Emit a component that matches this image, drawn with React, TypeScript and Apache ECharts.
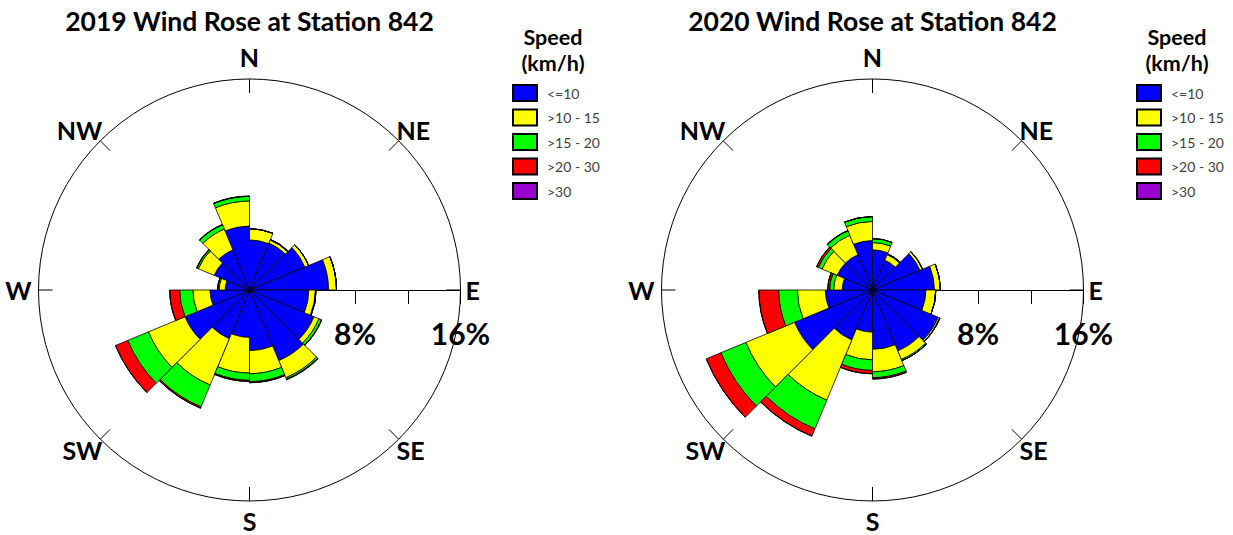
import React, { useEffect, useRef } from "react";
import * as echarts from "echarts";

const FONT = "Lato, 'Open Sans', sans-serif";

const SECTORS = ["N", "NNE", "NE", "ENE", "E", "ESE", "SE", "SSE", "S", "SSW", "SW", "WSW", "W", "WNW", "NW", "NNW"];
const COMPASS = ["E", "SE", "S", "SW", "W", "NW", "N", "NE", ""];
const COMPASS_STYLE = ["e", "d", "s", "d", "w", "d", "n", "d", "d"];
const SPEED_NAMES = ["<=10", ">10 - 15", ">15 - 20", ">20 - 30", ">30"];
const SPEED_COLORS = ["#0000FF", "#FFFF00", "#00FF00", "#FF0000", "#9900CC"];
const RADIUS_TICKS_SHOWN = [8, 16];

// 2019 (percent of time, per 22.5° sector starting at N, clockwise)
const y2019Calm = [3.8, 3.85, 4.55, 6.0, 4.5, 5.3, 5.8, 4.6, 3.6, 4.0, 5.3, 3.0, 1.85, 2.9, 3.3, 4.85];
const y2019Light = [0.85, 0.25, 0.3, 0.6, 0.5, 0.4, 1.4, 1.75, 2.7, 3.8, 3.0, 1.3, 0.45, 1.3, 1.7, 1.9];
const y2019Moderate = [0, 0.05, 0, 0, 0.05, 0.2, 0.12, 0.6, 0.55, 1.8, 1.7, 1.0, 0.1, 0.12, 0.35, 0.35];
const y2019Fresh = [0, 0, 0, 0, 0, 0.03, 0.04, 0.08, 0.08, 0.1, 1.0, 0.75, 0.02, 0.03, 0.02, 0.02];
const y2019Strong = [0, 0, 0, 0, 0, 0, 0, 0, 0, 0, 0, 0, 0, 0, 0, 0];

// 2020
const y2020Calm = [3.05, 2.45, 3.9, 4.7, 4.05, 5.4, 5.0, 4.5, 3.2, 4.1, 6.4, 3.58, 2.3, 2.9, 2.9, 3.75];
const y2020Light = [0.55, 0.45, 0.2, 0.45, 0.75, 0.12, 0.7, 1.7, 2.1, 4.95, 4.0, 2.12, 0.65, 1.25, 1.6, 1.45];
const y2020Moderate = [0.3, 0.07, 0.02, 0, 0, 0.02, 0.1, 0.45, 0.8, 2.35, 2.05, 1.42, 0.3, 0.3, 0.35, 0.37];
const y2020Fresh = [0, 0, 0, 0, 0, 0, 0, 0.1, 0.25, 0.6, 1.2, 1.5, 0.15, 0.15, 0.03, 0];
const y2020Strong = [0, 0, 0, 0, 0, 0, 0, 0, 0, 0, 0, 0, 0, 0, 0, 0];

const YEARS = [
  { title: "2019 Wind Rose at Station 842", cx: 249.5, legendX: 512, headX: 553, data: [y2019Calm, y2019Light, y2019Moderate, y2019Fresh, y2019Strong] },
  { title: "2020 Wind Rose at Station 842", cx: 872.5, legendX: 1136, headX: 1177, data: [y2020Calm, y2020Light, y2020Moderate, y2020Fresh, y2020Strong] },
];

const CY = 290;
const R = 211;

function buildOption() {
  const polar: any[] = [];
  const angleAxis: any[] = [];
  const radiusAxis: any[] = [];
  const grid: any[] = [];
  const xAxis: any[] = [];
  const yAxis: any[] = [];
  const series: any[] = [];
  const legend: any[] = [];
  const graphic: any[] = [];

  YEARS.forEach((yr, k) => {
    const barPolar = k * 2;
    const framePolar = k * 2 + 1;
    polar.push({ center: [yr.cx, CY], radius: R });
    polar.push({ center: [yr.cx, CY], radius: R });

    angleAxis.push({
      polarIndex: barPolar,
      type: "category",
      data: SECTORS,
      startAngle: 90,
      clockwise: true,
      boundaryGap: true,
      show: false,
    });
    angleAxis.push({
      polarIndex: framePolar,
      type: "value",
      min: 0,
      max: 360,
      interval: 45,
      startAngle: 0,
      clockwise: true,
      z: 0,
      axisLine: { show: true, lineStyle: { color: "#000", width: 1 } },
      axisTick: { show: true, inside: true, length: 14, lineStyle: { color: "#000", width: 1 } },
      axisLabel: {
        show: true,
        margin: -3,
        color: "#000",
        fontSize: 25,
        fontWeight: "bold",
        fontFamily: FONT,
        formatter: (v: number) => {
          const idx = Math.round(v / 45);
          const t = COMPASS[idx] || "";
          return t ? "{" + COMPASS_STYLE[idx] + "|" + t + "}" : "";
        },
        rich: {
          n: { fontSize: 25, fontWeight: "bold", fontFamily: FONT, color: "#000", padding: [0, 0, 13, 0] },
          s: { fontSize: 25, fontWeight: "bold", fontFamily: FONT, color: "#000", padding: [10, 0, 0, 0] },
          e: { fontSize: 25, fontWeight: "bold", fontFamily: FONT, color: "#000", padding: [0, 0, 0, 8] },
          w: { fontSize: 25, fontWeight: "bold", fontFamily: FONT, color: "#000", padding: [0, 10, 0, 0] },
          d: { fontSize: 25, fontWeight: "bold", fontFamily: FONT, color: "#000" },
        },
      },
      splitLine: { show: false },
    });

    radiusAxis.push({ polarIndex: barPolar, type: "value", min: 0, max: 16, show: false });
    radiusAxis.push({ polarIndex: framePolar, type: "value", min: 0, max: 16, show: false });

    // Radial scale along the East direction (ticks and labels below the line)
    grid.push({ left: yr.cx, top: CY - 10, width: R, height: 10, containLabel: false });
    xAxis.push({
      gridIndex: k,
      type: "value",
      min: 0,
      max: 16,
      interval: 4,
      position: "bottom",
      z: 0,
      axisLine: { show: true, onZero: false, lineStyle: { color: "#000", width: 1 } },
      axisTick: { show: true, inside: false, length: 14, lineStyle: { color: "#000", width: 1 } },
      axisLabel: {
        show: true,
        margin: 28,
        color: "#000",
        fontSize: 30,
        fontWeight: "bold",
        fontFamily: FONT,
        showMinLabel: true,
        showMaxLabel: true,
        formatter: (v: number) => (RADIUS_TICKS_SHOWN.indexOf(v) >= 0 ? v + "%" : ""),
      },
      splitLine: { show: false },
    });
    yAxis.push({ gridIndex: k, type: "value", min: 0, max: 1, show: false });

    yr.data.forEach((vals, i) => {
      series.push({
        type: "bar",
        name: SPEED_NAMES[i],
        coordinateSystem: "polar",
        polarIndex: barPolar,
        stack: "stack" + k,
        data: vals,
        barCategoryGap: "0%",
        silent: true,
        z: 5,
        itemStyle: { color: SPEED_COLORS[i], borderColor: "#000", borderWidth: 0.8 },
        emphasis: { disabled: true },
      });
    });

    legend.push({
      data: SPEED_NAMES,
      left: yr.legendX,
      top: 84,
      orient: "vertical",
      padding: 0,
      itemWidth: 24,
      itemHeight: 16,
      itemGap: 6.5,
      icon: "rect",
      selectedMode: false,
      textStyle: { fontSize: 14, color: "#404040", fontFamily: FONT, padding: [0, 0, 0, 5] },
    });

    graphic.push({
      type: "text",
      x: yr.cx,
      y: 21,
      style: { text: yr.title, fill: "#000", fontSize: 26.5, fontWeight: "bold", fontFamily: FONT, align: "center", verticalAlign: "middle" },
    });
    graphic.push({
      type: "text",
      x: yr.headX,
      y: 37,
      style: { text: "Speed", fill: "#000", fontSize: 21.5, fontWeight: "bold", fontFamily: FONT, align: "center", verticalAlign: "middle" },
    });
    graphic.push({
      type: "text",
      x: yr.headX,
      y: 63,
      style: { text: "(km/h)", fill: "#000", fontSize: 21.5, fontWeight: "bold", fontFamily: FONT, align: "center", verticalAlign: "middle" },
    });
  });

  return {
    animation: false,
    backgroundColor: "#fff",
    textStyle: { fontFamily: FONT },
    polar,
    angleAxis,
    radiusAxis,
    grid,
    xAxis,
    yAxis,
    legend,
    graphic,
    series,
  };
}

export default function App() {
  const ref = useRef<HTMLDivElement>(null);
  useEffect(() => {
    if (!ref.current) return;
    const chart = echarts.init(ref.current, undefined, { renderer: "svg" });
    chart.setOption(buildOption());
    return () => chart.dispose();
  }, []);
  return (
    <div
      ref={ref}
      style={{ position: "fixed", left: 0, top: 0, width: 1233, height: 535, background: "#fff" }}
    />
  );
}
